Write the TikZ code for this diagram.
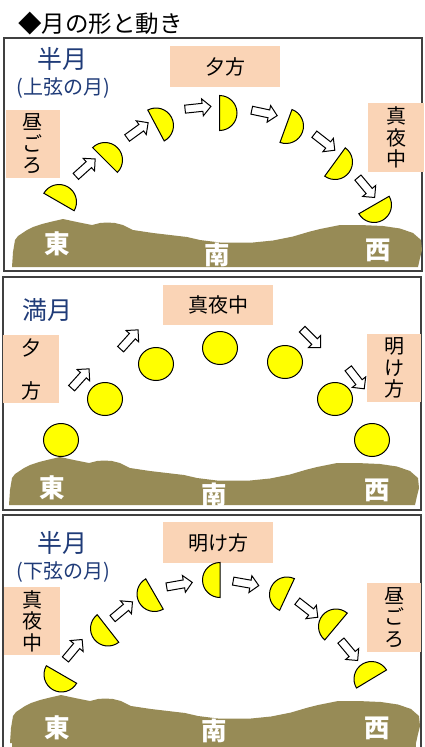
\documentclass[tikz,border=0pt]{standalone}
\usepackage{fontspec}
\setmainfont{Noto Sans CJK JP}
\usetikzlibrary{shapes.geometric,shapes.arrows}
\definecolor{peach}{HTML}{FAD4B6}
\definecolor{moonyellow}{HTML}{FFFF00}
\definecolor{groundbrown}{HTML}{978B56}
\definecolor{navy}{HTML}{1F3B78}

\tikzset{
  panelframe/.style={draw=black!75, line width=1.2pt},
  peachbox/.style={fill=peach, inner sep=0pt, align=center,
    font=\fontsize{20}{21.5}\selectfont},
  moonshape/.style={draw=black, line width=1pt, fill=moonyellow},
  fullmoon/.style={ellipse, moonshape, minimum width=35pt, minimum height=33pt, inner sep=0pt},
  blockarrow/.style={single arrow, draw=black, line width=1pt, fill=white,
    minimum height=26pt, inner xsep=0pt, inner ysep=3.5pt,
    single arrow head extend=4.5pt, single arrow tip angle=90},
  dirlabel/.style={text=white, inner sep=0pt, font=\fontsize{25.5}{25.5}\selectfont\bfseries},
  moonname/.style={text=navy, inner sep=0pt, font=\fontsize{25}{25}\selectfont},
  moonsub/.style={text=navy, inner sep=0pt, font=\fontsize{20}{20}\selectfont},
  % half-lit moon: lit side points along the local +x axis
  halfmoon/.pic={\path[moonshape] (0pt,17.5pt) arc[start angle=90,end angle=-90,radius=17.5pt] -- cycle;},
  % hills along the horizon
  hills/.pic={\fill[groundbrown] (12,267) -- (13,252) -- (15,240) -- (18,236) -- (27,230) -- (33,227)
    -- (42,224) -- (50,222) -- (63,219) -- (77,222) -- (92,225) -- (100,223) -- (107,222.5)
    -- (115,223) -- (123,225) -- (133,230) -- (153,233) -- (170,235) -- (187,237) -- (200,240)
    -- (220,242.5) -- (253,242.5) -- (273,240.5) -- (293,236.5) -- (310,231.5) -- (320,229)
    -- (330,227) -- (340,225) -- (360,225) -- (383,226) -- (400,228.5) -- (413,233) -- (421,240)
    -- (422,250) -- (420,258) -- (418,267) -- cycle;},
}

\begin{document}
\begin{tikzpicture}[x=1pt,y=-1pt]
\useasboundingbox (0,0) rectangle (424,747);
\clip (0,0) rectangle (424,747);

\node[anchor=west, inner sep=0pt, font=\fontsize{23.5}{23.5}\selectfont] (title) at (18,23.5) {◆月の形と動き};

% ---------- first quarter ----------
\draw[panelframe] (4,38) rectangle (422,271);
\pic at (0,0) {hills};
\node[moonname] (p1name) at (62,59) {半月};
\node[moonsub] (p1sub) at (63,88) {(上弦の月)};
\node[peachbox, minimum width=110pt, minimum height=41pt] (p1eve) at (225,66.5) {夕方};
\node[peachbox, minimum width=54pt, minimum height=68pt] (p1noon) at (33,144) {昼\\ご\\ろ};
\node[peachbox, minimum width=56pt, minimum height=69pt] (p1mid) at (396,137.5) {真\\夜\\中};

\pic[rotate=60]  at (59,202)   {halfmoon};
\pic[rotate=45]  at (105,160)  {halfmoon};
\pic[rotate=28]  at (156,125.5){halfmoon};
\pic[rotate=0]   at (219.5,113){halfmoon};
\pic[rotate=-20] at (286,126)  {halfmoon};
\pic[rotate=-36] at (335,162)  {halfmoon};
\pic[rotate=-60] at (374,205)  {halfmoon};

\node[blockarrow, rotate=42]  (p1a1) at (84,169) {};
\node[blockarrow, rotate=36]  (p1a2) at (136,131.5) {};
\node[blockarrow, rotate=6]   (p1a3) at (196,108) {};
\node[blockarrow, rotate=-12] (p1a4) at (262.5,112.5) {};
\node[blockarrow, rotate=-38] (p1a5) at (323,141) {};
\node[blockarrow, rotate=-50] (p1a6) at (365,186) {};

\node[dirlabel] (p1east) at (57,244) {東};
\node[dirlabel] (p1south) at (217,255) {南};
\node[dirlabel] (p1west) at (378,250) {西};

% ---------- full moon ----------
\draw[panelframe] (3,277) rectangle (421,510);
\pic at (-3,238) {hills};
\node[moonname] (p2name) at (48,310) {満月};
\node[peachbox, minimum width=110pt, minimum height=40pt] (p2mid) at (218,305) {真夜中};
\node[peachbox, minimum width=56pt, minimum height=68pt] (p2eve) at (31,369) {夕\\[21.5pt]方};
\node[peachbox, minimum width=54pt, minimum height=68pt] (p2dawn) at (394,368) {明\\け\\方};

\node[fullmoon] (fm1) at (61,440) {};
\node[fullmoon] (fm2) at (105,399) {};
\node[fullmoon] (fm3) at (156,364) {};
\node[fullmoon] (fm4) at (220,348) {};
\node[fullmoon] (fm5) at (285,362) {};
\node[fullmoon] (fm6) at (335,399) {};
\node[fullmoon] (fm7) at (372,440) {};

\node[blockarrow, rotate=48]  (p2a1) at (79,380) {};
\node[blockarrow, rotate=48]  (p2a2) at (128,341) {};
\node[blockarrow, rotate=-45] (p2a3) at (310,337) {};
\node[blockarrow, rotate=-52] (p2a4) at (355,377) {};

\node[dirlabel] (p2east) at (52,488) {東};
\node[dirlabel] (p2south) at (214,495) {南};
\node[dirlabel] (p2west) at (377,490) {西};

% ---------- last quarter ----------
\draw[panelframe] (3,515) rectangle (421,760);
\pic at (-2,476) {hills};
\fill[groundbrown] (12,740) rectangle (416,750);
\node[moonname] (p3name) at (62,543) {半月};
\node[moonsub] (p3sub) at (63,572) {(下弦の月)};
\node[peachbox, minimum width=110pt, minimum height=41pt] (p3dawn) at (218,542.5) {明け方};
\node[peachbox, minimum width=56pt, minimum height=68pt] (p3mid) at (32,621) {真\\夜\\中};
\node[peachbox, minimum width=54pt, minimum height=69pt] (p3noon) at (394,617.5) {昼\\ご\\ろ};

\pic[rotate=-120] at (61.5,674.5) {halfmoon};
\pic[rotate=-142] at (108,628.5)  {halfmoon};
\pic[rotate=-150] at (154.5,594)  {halfmoon};
\pic[rotate=180]  at (220,580)    {halfmoon};
\pic[rotate=155]  at (287,594.5)  {halfmoon};
\pic[rotate=140]  at (336,626.5)  {halfmoon};
\pic[rotate=121]  at (371.5,679)  {halfmoon};

\node[blockarrow, rotate=50]  (p3a1) at (72.5,651) {};
\node[blockarrow, rotate=40]  (p3a2) at (121,611.5) {};
\node[blockarrow, rotate=10]  (p3a3) at (177.5,585) {};
\node[blockarrow, rotate=-10] (p3a4) at (244,583) {};
\node[blockarrow, rotate=-38] (p3a5) at (306,608) {};
\node[blockarrow, rotate=-50] (p3a6) at (348,649) {};

\node[dirlabel] (p3east) at (57,728) {東};
\node[dirlabel] (p3south) at (214,731) {南};
\node[dirlabel] (p3west) at (377,728) {西};
\end{tikzpicture}
\end{document}
